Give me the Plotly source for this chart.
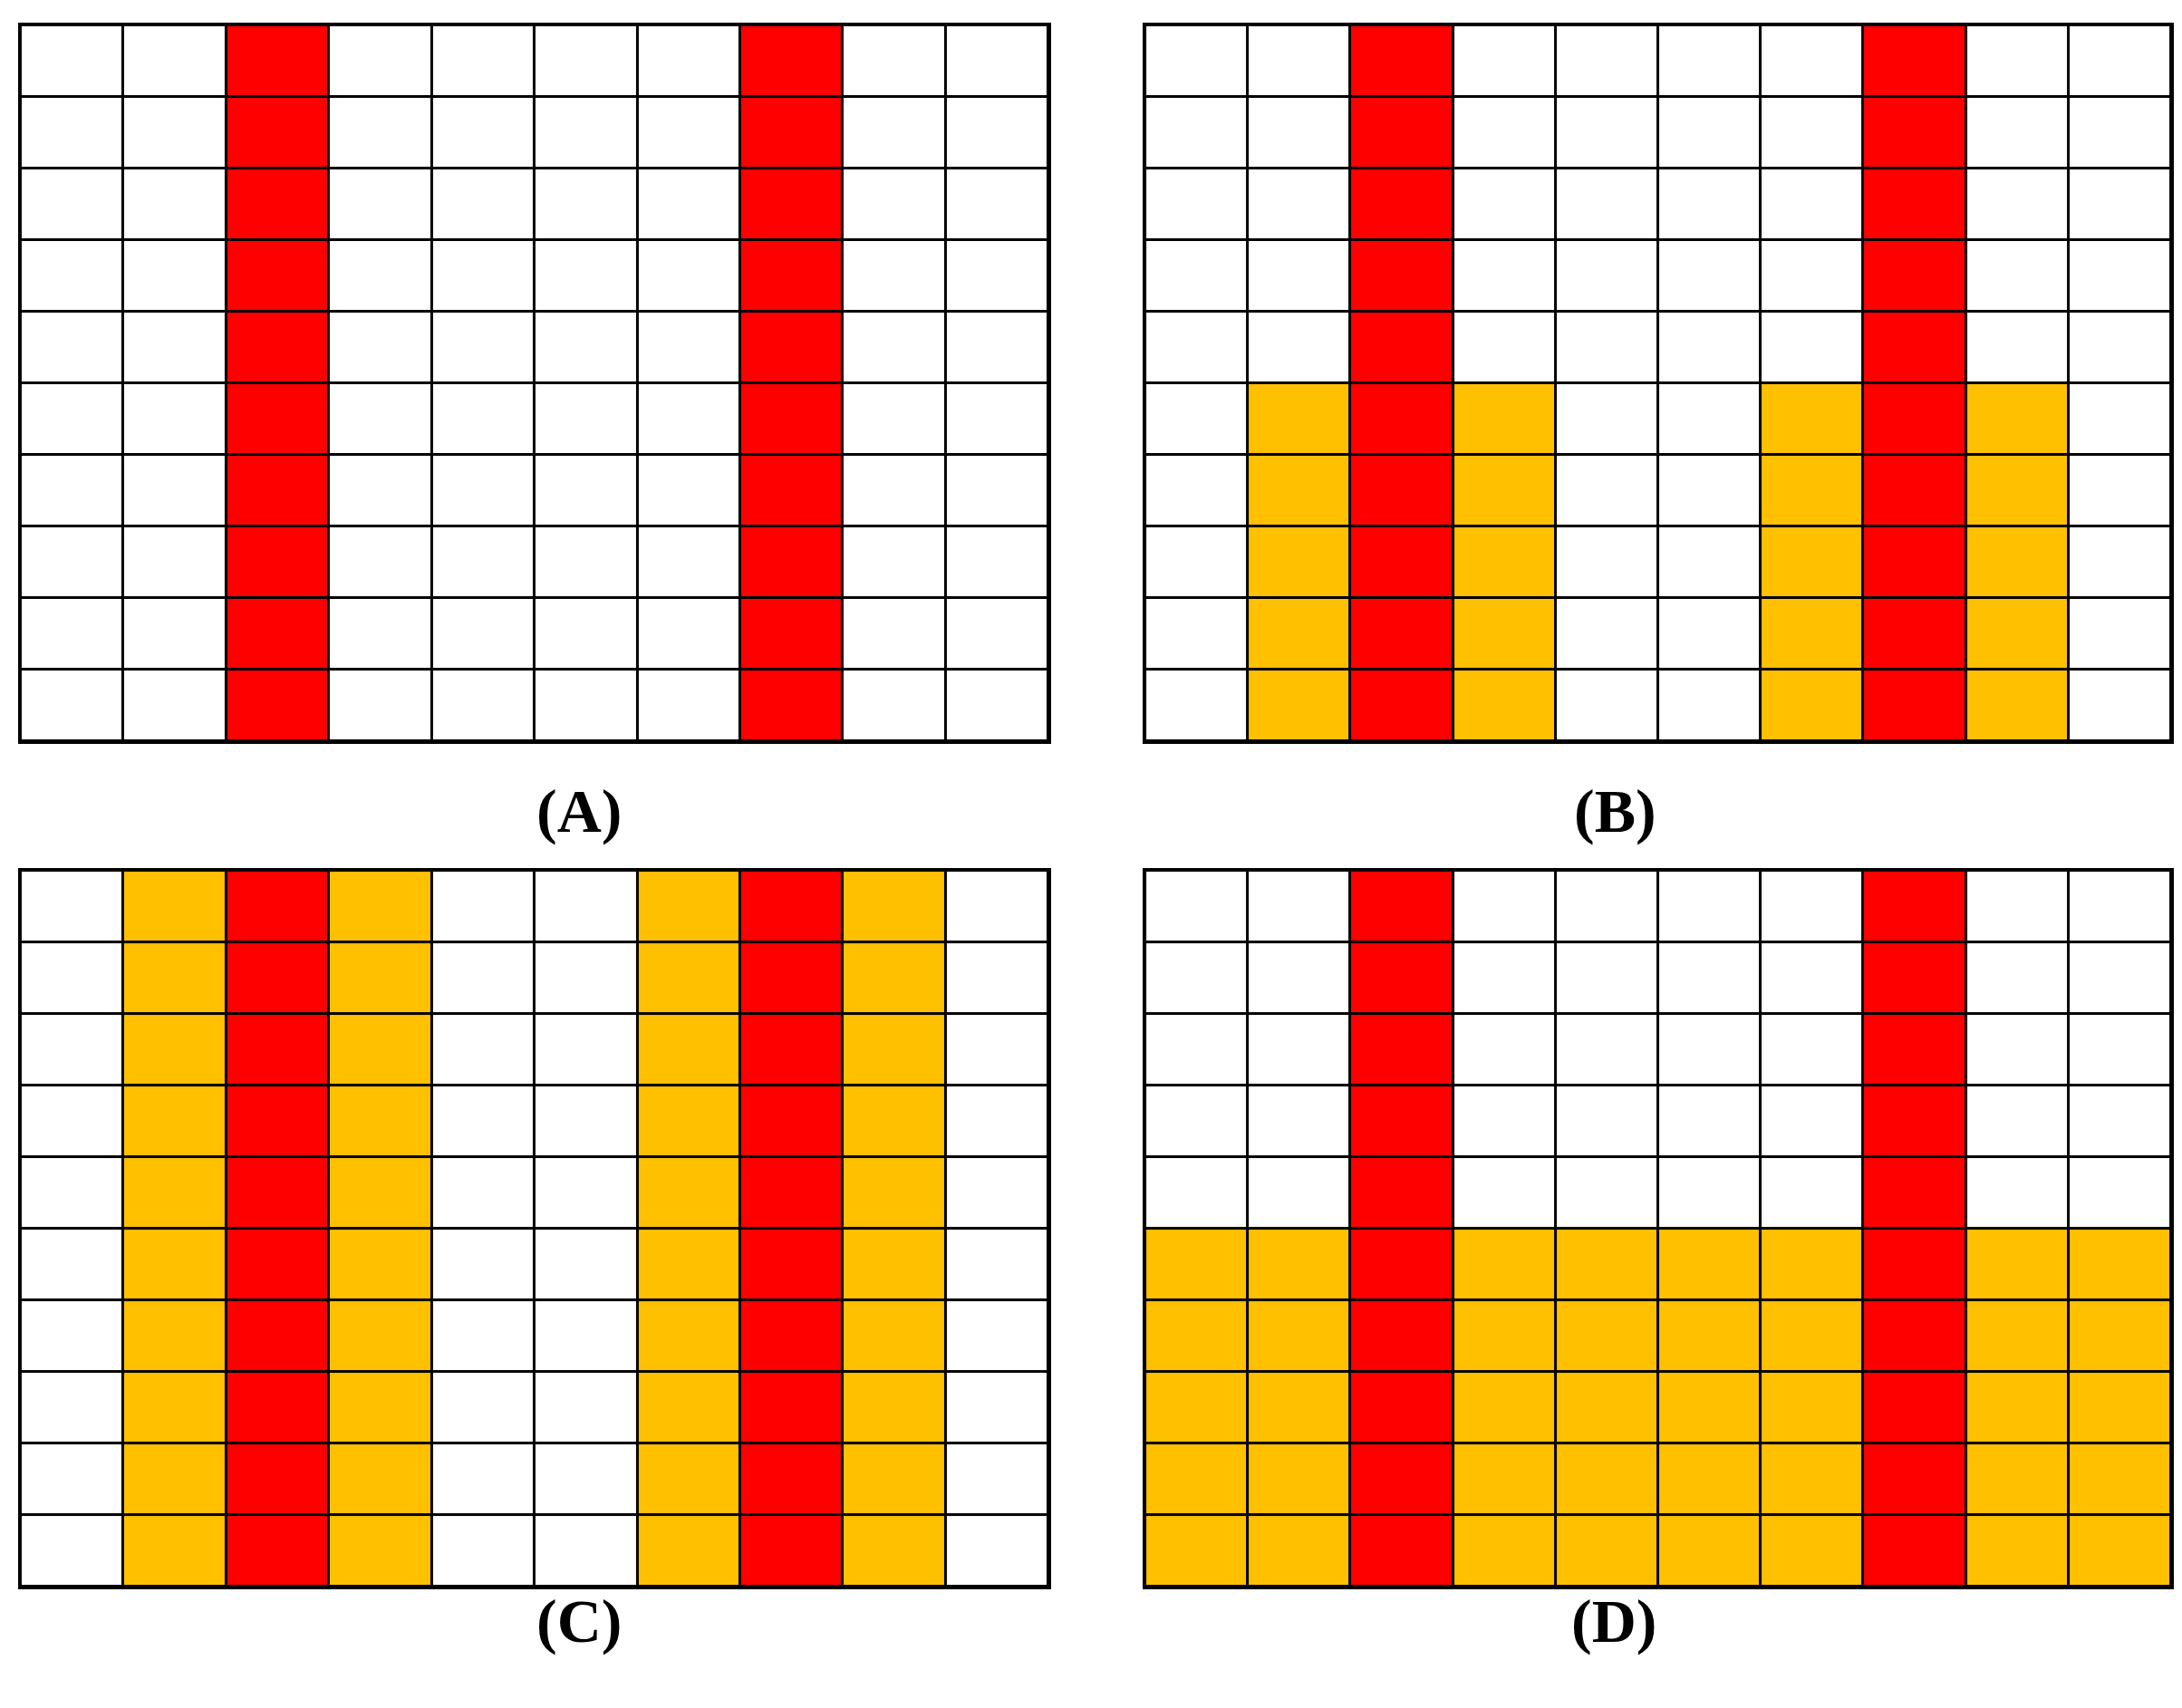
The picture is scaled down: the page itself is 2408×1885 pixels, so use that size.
import plotly.graph_objects as go

N = 10
red_cols = [2, 7]
yellow_cols_near = [1, 3, 6, 8]
labels = ["(A)", "(B)", "(C)", "(D)"]

def grid(kind):
    z = []
    for r in range(N):  # r=0 bottom row
        row = []
        for c in range(N):
            v = 0
            if kind == "B" and r < 5 and c in yellow_cols_near: v = 1
            if kind == "C" and c in yellow_cols_near: v = 1
            if kind == "D" and r < 5: v = 1
            if c in red_cols: v = 2
            row.append(v)
        z.append(row)
    return z

xd = [[0.0062, 0.4772], [0.5216, 0.9917]]
yd = [[0.5703, 0.9894], [0.0753, 0.4944]]
panels = [("A", xd[0], yd[0]), ("B", xd[1], yd[0]), ("C", xd[0], yd[1]), ("D", xd[1], yd[1])]
cs = [[0, "#FFFFFF"], [0.33, "#FFFFFF"], [0.34, "#FFC000"], [0.66, "#FFC000"], [0.67, "#FF0000"], [1, "#FF0000"]]

fig = go.Figure()
layout = dict(width=2408, height=1885, margin=dict(l=0, r=0, t=0, b=0),
              paper_bgcolor="white", plot_bgcolor="black", showlegend=False)
ann = []
for i, (k, xdom, ydom) in enumerate(panels):
    n = "" if i == 0 else str(i + 1)
    fig.add_trace(go.Heatmap(z=grid(k), zmin=0, zmax=2, colorscale=cs, showscale=False,
                             xgap=3, ygap=3, xaxis="x" + n, yaxis="y" + n, hoverinfo="skip"))
    ax = dict(domain=xdom, showticklabels=False, showgrid=False, zeroline=False, ticks="",
              range=[-0.5, 9.5], showline=True, mirror=True, linecolor="black", linewidth=3)
    ay = dict(ax, domain=ydom, anchor="x" + n)
    ax["anchor"] = "y" + n
    layout["xaxis" + n] = ax
    layout["yaxis" + n] = ay
    ann.append(dict(text="<b>%s</b>" % labels[i], x=(xdom[0] + xdom[1]) / 2,
                    y=0.5294 if i < 2 else 0.034, xref="paper", yref="paper",
                    showarrow=False, font=dict(family="Liberation Serif", size=68, color="black")))
layout["annotations"] = ann
fig.update_layout(**layout)
fig.write_html("out.html")
